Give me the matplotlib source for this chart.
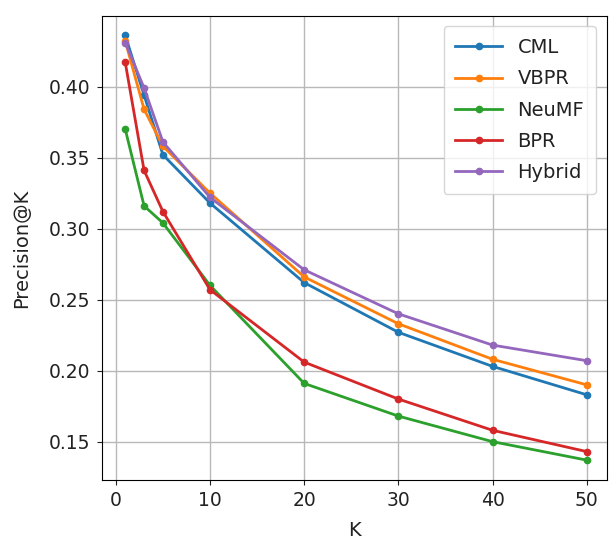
import matplotlib
matplotlib.use('Agg')
import matplotlib.pyplot as plt

K = [1, 3, 5, 10, 20, 30, 40, 50]
cml = [0.436, 0.394, 0.352, 0.318, 0.262, 0.227, 0.203, 0.183]
vbpr = [0.432, 0.384, 0.358, 0.325, 0.266, 0.233, 0.208, 0.190]
neumf = [0.370, 0.316, 0.304, 0.260, 0.191, 0.168, 0.150, 0.137]
bpr = [0.417, 0.341, 0.312, 0.257, 0.206, 0.180, 0.158, 0.143]
hybrid = [0.431, 0.399, 0.361, 0.322, 0.271, 0.240, 0.218, 0.207]
series = [('CML', cml), ('VBPR', vbpr), ('NeuMF', neumf), ('BPR', bpr), ('Hybrid', hybrid)]

fig, ax = plt.subplots(figsize=(6.09, 5.43), dpi=100)
fig.subplots_adjust(left=0.167, right=0.996, top=0.971, bottom=0.116)
for name, vals in series:
    ax.plot(K, vals, marker='o', markersize=4.5, lw=2, label=name)
ax.set_xlim(-1.5, 52.1)
ax.set_ylim(0.123, 0.4499)
ax.set_xticks([0, 10, 20, 30, 40, 50])
ax.grid(True, color='#b8b8b8', lw=1)
ax.tick_params(labelsize=13.5, pad=4.5, colors='#222222')
ax.set_xlabel('K', fontsize=14, labelpad=8, color='#222222')
ax.set_ylabel('Precision@K', fontsize=14, labelpad=13, color='#222222')
leg = ax.legend(loc='upper right', fontsize=14, handlelength=2.4,
                borderaxespad=0.55, labelspacing=0.63, borderpad=0.6)
for t in leg.get_texts():
    t.set_color('#222222')
fig.savefig('out.png')
